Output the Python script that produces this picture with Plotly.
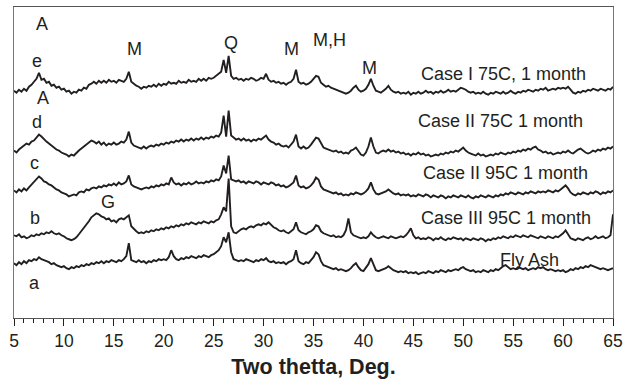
import plotly.graph_objects as go

# Two-theta scan grid (deg), step 0.25
TT_START = 5.0
TT_STEP = 0.25
N_PTS = 241
two_theta = [TT_START + TT_STEP * i for i in range(N_PTS)]

# Offset intensities (arbitrary units)
case1_75c = [
    228, 226, 229, 227, 230, 228, 232, 234, 237, 240, 246, 239, 240, 236, 237, 233,
    234, 231, 232, 229, 230, 227, 228, 225, 227, 226, 229, 228, 231, 230, 234, 235,
    237, 235, 238, 236, 238, 236, 239, 237, 238, 236, 239, 238, 237, 240, 247, 237,
    235, 233, 232, 230, 232, 231, 233, 232, 234, 232, 235, 233, 235, 234, 237, 235,
    236, 235, 238, 236, 237, 236, 239, 237, 238, 237, 240, 238, 240, 238, 241, 240,
    241, 243, 245, 247, 259, 246, 263, 243, 240, 241, 239, 240, 238, 240, 239, 241,
    240, 238, 239, 241, 240, 245, 239, 237, 238, 236, 237, 235, 236, 234, 236, 237,
    240, 249, 237, 235, 236, 234, 235, 237, 240, 243, 242, 236, 234, 232, 233, 231,
    230, 229, 228, 227, 226, 225, 226, 228, 231, 233, 229, 227, 228, 230, 234, 240,
    233, 228, 227, 226, 228, 230, 233, 229, 227, 226, 227, 225, 226, 225, 227, 224,
    226, 225, 227, 225, 226, 228, 226, 227, 225, 227, 226, 228, 226, 227, 229, 227,
    228, 227, 229, 231, 230, 229, 227, 226, 227, 225, 226, 225, 227, 225, 224, 226,
    225, 227, 226, 225, 227, 225, 226, 228, 226, 225, 227, 226, 228, 227, 229, 228,
    227, 229, 228, 230, 229, 231, 228, 229, 230, 229, 231, 230, 231, 230, 232, 229,
    226, 225, 227, 226, 228, 227, 229, 228, 230, 229, 228, 230, 229, 228, 230, 229,
    232,
]
case2_75c = [
    168, 166, 169, 171, 173, 175, 174, 177, 178, 181, 184, 182, 179, 177, 175, 173,
    171, 169, 168, 166, 165, 164, 162, 164, 163, 166, 168, 170, 172, 174, 176, 178,
    177, 175, 177, 174, 176, 173, 175, 174, 176, 174, 175, 177, 176, 179, 187, 176,
    173, 172, 171, 170, 172, 170, 172, 173, 172, 174, 173, 175, 174, 176, 175, 177,
    176, 178, 177, 179, 177, 179, 178, 180, 178, 180, 179, 181, 179, 181, 180, 182,
    181, 183, 182, 186, 203, 182, 208, 183, 181, 179, 180, 178, 180, 178, 179, 177,
    179, 178, 180, 179, 181, 183, 179, 177, 176, 174, 175, 173, 172, 173, 171, 174,
    177, 184, 172, 170, 172, 170, 171, 174, 178, 181, 180, 175, 171, 170, 169, 168,
    167, 168, 166, 167, 165, 166, 165, 168, 169, 171, 168, 164, 163, 166, 172, 181,
    172, 166, 165, 167, 168, 167, 169, 167, 168, 166, 167, 165, 166, 164, 165, 163,
    165, 164, 166, 164, 165, 163, 164, 162, 163, 164, 163, 165, 164, 166, 165, 167,
    166, 168, 167, 169, 171, 168, 166, 165, 164, 163, 165, 163, 164, 162, 163, 164,
    163, 165, 164, 166, 165, 164, 166, 165, 167, 166, 168, 167, 169, 168, 170, 169,
    171, 172, 169, 168, 166, 167, 165, 166, 164, 165, 166, 165, 167, 166, 168, 166,
    165, 167, 169, 170, 168, 166, 165, 166, 168, 167, 169, 168, 170, 169, 171, 170,
    172,
]
case2_95c = [
    128, 126, 129, 127, 130, 128, 131, 134, 136, 139, 142, 140, 137, 136, 134, 133,
    131, 129, 128, 126, 125, 124, 122, 123, 124, 123, 126, 127, 126, 129, 128, 130,
    131, 130, 132, 131, 133, 132, 134, 133, 135, 133, 136, 134, 135, 137, 143, 134,
    132, 131, 130, 129, 130, 131, 130, 132, 131, 133, 132, 134, 133, 135, 134, 141,
    136, 134, 135, 133, 135, 134, 136, 134, 135, 137, 135, 136, 135, 137, 136, 138,
    137, 139, 138, 142, 153, 145, 163, 139, 138, 137, 138, 136, 137, 135, 137, 136,
    135, 137, 136, 134, 136, 135, 134, 136, 135, 133, 134, 132, 133, 131, 132, 134,
    136, 143, 133, 131, 132, 130, 131, 133, 136, 141, 139, 132, 129, 128, 127, 126,
    125, 126, 124, 125, 123, 124, 123, 125, 124, 126, 125, 124, 125, 127, 130, 136,
    129, 125, 124, 125, 126, 127, 129, 127, 125, 124, 125, 123, 124, 123, 124, 122,
    123, 122, 124, 123, 122, 124, 123, 121, 123, 122, 121, 123, 122, 120, 122, 121,
    123, 122, 121, 123, 122, 121, 123, 121, 120, 122, 121, 123, 122, 121, 123, 122,
    121, 123, 122, 124, 123, 125, 124, 126, 125, 124, 126, 125, 124, 126, 125, 127,
    126, 125, 127, 126, 127, 126, 128, 127, 126, 128, 127, 129, 131, 133, 130, 126,
    124, 123, 125, 124, 126, 125, 124, 126, 125, 127, 126, 124, 126, 125, 127, 126,
    128,
]
case3_95c = [
    83, 82, 84, 81, 82, 80, 81, 83, 82, 84, 83, 85, 84, 86, 85, 87,
    85, 84, 85, 83, 82, 80, 79, 78, 79, 81, 84, 87, 90, 94, 97, 101,
    103, 105, 104, 102, 101, 99, 100, 97, 98, 96, 99, 100, 99, 101, 103, 92,
    89, 87, 85, 86, 85, 87, 86, 88, 87, 89, 88, 90, 89, 91, 90, 92,
    91, 93, 92, 94, 93, 95, 94, 96, 95, 94, 96, 95, 97, 96, 95, 97,
    96, 98, 99, 104, 111, 107, 140, 92, 86, 85, 87, 89, 90, 89, 91, 92,
    91, 93, 94, 93, 95, 94, 96, 93, 91, 90, 88, 87, 88, 86, 85, 87,
    89, 96, 88, 86, 85, 84, 86, 87, 89, 93, 92, 87, 85, 84, 83, 82,
    83, 81, 82, 81, 83, 88, 100, 86, 83, 82, 81, 80, 81, 80, 82, 86,
    83, 81, 80, 81, 82, 81, 80, 82, 81, 80, 81, 82, 81, 83, 86, 90,
    83, 80, 81, 79, 80, 79, 81, 80, 78, 80, 79, 81, 79, 78, 80, 79,
    81, 80, 79, 80, 78, 80, 79, 78, 80, 79, 78, 80, 79, 77, 79, 78,
    80, 79, 81, 80, 82, 81, 80, 82, 81, 83, 82, 81, 83, 82, 81, 83,
    82, 81, 80, 82, 81, 80, 82, 81, 80, 82, 81, 83, 85, 88, 84, 80,
    79, 78, 80, 79, 78, 80, 81, 79, 80, 82, 80, 81, 82, 80, 81, 83,
    104,
]
fly_ash = [
    55, 53, 56, 54, 57, 55, 58, 57, 59, 58, 61, 59, 58, 57, 56, 54,
    55, 53, 52, 51, 52, 50, 49, 51, 50, 52, 51, 53, 52, 54, 53, 55,
    54, 56, 55, 57, 55, 57, 56, 58, 57, 56, 58, 57, 59, 62, 75, 58,
    57, 56, 58, 56, 57, 55, 57, 56, 58, 57, 59, 58, 59, 58, 61, 68,
    62, 59, 58, 60, 59, 61, 60, 62, 61, 60, 62, 61, 63, 62, 61, 63,
    64, 66, 68, 72, 81, 76, 86, 66, 59, 58, 57, 58, 57, 59, 58, 57,
    56, 58, 57, 59, 58, 60, 57, 56, 57, 55, 56, 55, 56, 54, 56, 57,
    59, 68, 57, 55, 54, 56, 55, 58, 61, 66, 64, 57, 53, 52, 51, 50,
    49, 50, 48, 49, 48, 47, 48, 50, 53, 55, 51, 48, 47, 50, 54, 60,
    53, 48, 47, 48, 49, 50, 52, 50, 48, 47, 46, 47, 46, 47, 45, 46,
    45, 46, 44, 45, 46, 45, 47, 46, 45, 47, 46, 48, 47, 46, 48, 47,
    48, 49, 48, 50, 51, 49, 48, 47, 48, 46, 47, 46, 48, 47, 46, 48,
    47, 49, 48, 50, 52, 53, 51, 49, 50, 49, 51, 50, 49, 50, 48, 49,
    50, 49, 51, 50, 51, 49, 48, 49, 48, 47, 48, 47, 48, 46, 47, 49,
    48, 50, 49, 51, 50, 52, 51, 53, 52, 51, 50, 49, 50, 49, 48, 49,
    50,
]

series = [case1_75c, case2_75c, case2_95c, case3_95c, fly_ash]
series_names = ["Case I 75C, 1 month", "Case II 75C 1 month", "Case II 95C 1 month",
                "Case III 95C 1 month", "Fly Ash"]

# Text labels: (text, two-theta, intensity)
label_text = ["Case I 75C, 1 month", "Case II 75C 1 month", "Case II 95C 1 month",
              "Case III 95C 1 month", "Fly Ash",
              "A", "e", "A", "d", "c", "b", "G", "a", "M", "Q", "M", "M,H", "M"]
label_x = [54.0, 53.7, 54.2, 54.3, 56.6,
           7.8, 7.3, 7.9, 7.3, 7.1, 7.1, 14.4, 7.1, 17.1, 26.7, 32.8, 36.6, 40.6]
label_y = [245, 198, 145, 100, 58,
           295, 258, 221, 197, 156, 100, 116, 35, 270, 276, 270, 279, 251]

x_tick_vals = [5, 10, 15, 20, 25, 30, 35, 40, 45, 50, 55, 60, 65]

INK = "#231f20"
FONT = "Liberation Sans, Arial, Helvetica, sans-serif"

fig = go.Figure()
for ys, nm in zip(series, series_names):
    fig.add_trace(go.Scatter(x=two_theta, y=ys, mode="lines", name=nm,
                             line=dict(color=INK, width=1.9), showlegend=False,
                             hoverinfo="skip"))

for t, xv, yv in zip(label_text, label_x, label_y):
    fig.add_annotation(x=xv, y=yv, xref="x", yref="y", text=t, showarrow=False,
                       font=dict(family=FONT, size=18, color=INK),
                       xanchor="center", yanchor="middle")

fig.update_layout(
    width=629, height=388,
    margin=dict(l=14, r=12, t=6, b=70),
    paper_bgcolor="white", plot_bgcolor="white",
    font=dict(family=FONT, color=INK),
    xaxis=dict(
        range=[5, 65], tickvals=x_tick_vals, ticks="outside", ticklen=7,
        tickwidth=1, tickcolor=INK, showline=True, linecolor="#555555",
        linewidth=1.2, mirror=True, showgrid=False, zeroline=False,
        tickfont=dict(size=17.5, family=FONT, color=INK),
        minor=dict(dtick=1, tick0=5, ticks="outside", ticklen=4, tickcolor=INK,
                   showgrid=False),
        title=dict(text="<b>Two thetta, Deg.</b>", standoff=8,
                   font=dict(size=21.5, family=FONT, color=INK)),
    ),
    yaxis=dict(range=[0, 312], showticklabels=False, ticks="", showline=True,
               linecolor="#777777", linewidth=1.2, mirror=True, showgrid=False,
               zeroline=False),
)

fig.write_html("out.html")
